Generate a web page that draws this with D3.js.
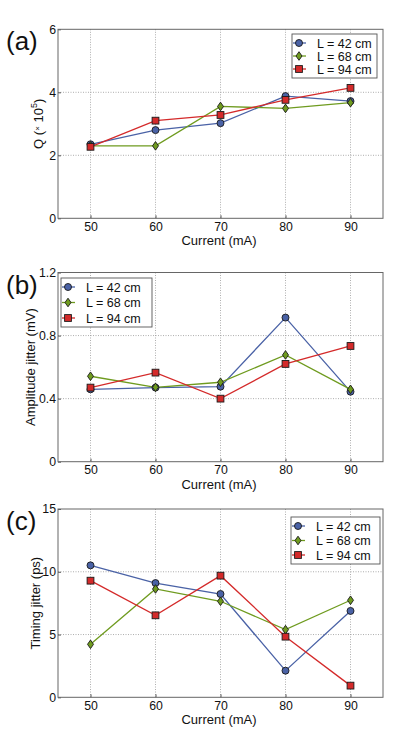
<!DOCTYPE html>
<html>
<head>
<meta charset="utf-8">
<script src="https://cdn.jsdelivr.net/npm/d3@7"></script>
<style>
  body { margin: 0; background: #fff; }
  svg { display: block; font-family: "Liberation Sans", Arial, sans-serif; }
</style>
</head>
<body>
<svg id="chart" width="398" height="734"></svg>
<script>
const currents = [50, 60, 70, 80, 90];
const seriesNames = ['L = 42 cm', 'L = 68 cm', 'L = 94 cm'];
const colors = ['#4a62a6', '#6f9b1f', '#d42a2a'];
const shapes = ['circle', 'diamond', 'square'];

// Q (x 10^5)
const q42 = [2.35, 2.80, 3.02, 3.88, 3.72];
const q68 = [2.30, 2.30, 3.55, 3.49, 3.67];
const q94 = [2.27, 3.10, 3.28, 3.76, 4.14];

// amplitude jitter (mV)
const amp42 = [0.459, 0.470, 0.476, 0.914, 0.444];
const amp68 = [0.542, 0.472, 0.504, 0.677, 0.459];
const amp94 = [0.470, 0.565, 0.400, 0.620, 0.734];

// timing jitter (ps)
const tim42 = [10.51, 9.10, 8.23, 2.12, 6.88];
const tim68 = [4.22, 8.63, 7.65, 5.39, 7.73];
const tim94 = [9.29, 6.53, 9.69, 4.83, 0.93];

const qTicks = [0, 2, 4, 6];
const ampTicks = [0, 0.4, 0.8, 1.2];
const timTicks = [0, 5, 10, 15];

const panels = [
  { tag: '(a)', top: 29.3, bottom: 218.3, max: 6, ticks: qTicks, fmt: d => d,
    series: [q42, q68, q94], ylabel: 'q', labelX: 43, legend: { x: 292, y: 34, w: 85, h: 44 } },
  { tag: '(b)', top: 272.5, bottom: 461.7, max: 1.2, ticks: ampTicks, fmt: d => d === 0 ? '0' : d.toFixed(1),
    series: [amp42, amp68, amp94], ylabel: 'Amplitude jitter (mV)', labelX: 35, legend: { x: 61, y: 278, w: 91, h: 49 } },
  { tag: '(c)', top: 509, bottom: 697.3, max: 15, ticks: timTicks, fmt: d => d,
    series: [tim42, tim68, tim94], ylabel: 'Timing jitter (ps)', labelX: 40, legend: { x: 291, y: 517, w: 89, h: 47 } }
];

const svg = d3.select('#chart');
const x = d3.scaleLinear().domain([45, 95]).range([58, 383]);

const drawMarker = (g, shape, cx, cy, color) => {
  if (shape === 'circle') {
    g.append('circle').attr('cx', cx).attr('cy', cy).attr('r', 3.5)
      .attr('fill', color).attr('stroke', '#1a1a1a').attr('stroke-width', 0.9);
  } else if (shape === 'diamond') {
    g.append('path').attr('d', `M${cx},${cy - 4.3}L${cx + 3},${cy}L${cx},${cy + 4.3}L${cx - 3},${cy}Z`)
      .attr('fill', color).attr('stroke', '#1a1a1a').attr('stroke-width', 0.9);
  } else {
    g.append('rect').attr('x', cx - 3.4).attr('y', cy - 3.4).attr('width', 6.8).attr('height', 6.8)
      .attr('fill', color).attr('stroke', '#1a1a1a').attr('stroke-width', 0.9);
  }
};

panels.forEach(p => {
  const y = d3.scaleLinear().domain([0, p.max]).range([p.bottom, p.top]);
  const g = svg.append('g');

  // grid
  g.append('g').selectAll('line').data(currents).join('line')
    .attr('x1', d => x(d)).attr('x2', d => x(d)).attr('y1', p.top).attr('y2', p.bottom)
    .attr('stroke', '#999').attr('stroke-width', 0.8).attr('stroke-dasharray', '1,1.5');
  g.append('g').selectAll('line').data(p.ticks.slice(1, -1)).join('line')
    .attr('x1', 58).attr('x2', 383).attr('y1', d => y(d)).attr('y2', d => y(d))
    .attr('stroke', '#999').attr('stroke-width', 0.8).attr('stroke-dasharray', '1,1.5');

  // axes
  const xAxis = g.append('g').attr('transform', `translate(0,${p.bottom})`)
    .call(d3.axisBottom(x).tickValues(currents).tickSizeInner(-3).tickSizeOuter(0).tickPadding(4));
  const yAxis = g.append('g').attr('transform', 'translate(58,0)')
    .call(d3.axisLeft(y).tickValues(p.ticks).tickFormat(p.fmt).tickSizeInner(-3).tickSizeOuter(0).tickPadding(2));
  [xAxis, yAxis].forEach(a => {
    a.select('.domain').remove();
    a.selectAll('line').attr('stroke', '#555');
    a.selectAll('text').attr('font-size', 12.3).attr('fill', '#111').attr('font-family', '"Liberation Sans", Arial, sans-serif');
  });
  g.append('rect').attr('x', 58).attr('y', p.top).attr('width', 325).attr('height', p.bottom - p.top)
    .attr('fill', 'none').attr('stroke', '#666').attr('stroke-width', 1);

  // x label
  g.append('text').attr('x', 219).attr('y', p.bottom + 27).attr('text-anchor', 'middle')
    .attr('font-size', 13).attr('fill', '#111').text('Current (mA)');

  // y label
  const yl = g.append('text')
    .attr('transform', `translate(${p.labelX},${(p.top + p.bottom) / 2}) rotate(-90)`)
    .attr('text-anchor', 'middle').attr('font-size', 13).attr('fill', '#111');
  if (p.ylabel === 'q') {
    yl.append('tspan').text('Q (');
    yl.append('tspan').attr('font-size', 8).attr('dy', -3).text('×');
    yl.append('tspan').attr('dy', 3).text(' 10');
    yl.append('tspan').attr('font-size', 9).attr('dy', -6).text('5');
    yl.append('tspan').attr('dy', 6).text(')');
  } else {
    yl.text(p.ylabel);
  }

  // panel tag
  g.append('text').attr('x', 6).attr('y', p.top + 21).attr('font-size', 26).attr('fill', '#111').text(p.tag);

  // series
  const line = d3.line().x((d, i) => x(currents[i])).y(d => y(d));
  p.series.forEach((vals, si) => {
    g.append('path').datum(vals).attr('d', line).attr('fill', 'none')
      .attr('stroke', colors[si]).attr('stroke-width', 1.3);
  });
  p.series.forEach((vals, si) => {
    const mg = g.append('g');
    vals.forEach((v, i) => drawMarker(mg, shapes[si], x(currents[i]), y(v), colors[si]));
  });

  // legend
  const L = p.legend;
  const lg = g.append('g');
  lg.append('rect').attr('x', L.x).attr('y', L.y).attr('width', L.w).attr('height', L.h)
    .attr('fill', '#fff').attr('stroke', '#555').attr('stroke-width', 0.9);
  const step = (L.h - 18) / 2;
  seriesNames.forEach((name, si) => {
    const cy = L.y + 9 + si * step;
    const mx = L.x + 7;
    lg.append('line').attr('x1', L.x + 1).attr('x2', L.x + 14).attr('y1', cy).attr('y2', cy)
      .attr('stroke', colors[si]).attr('stroke-width', 1.3);
    drawMarker(lg, shapes[si], mx, cy, colors[si]);
    lg.append('text').attr('x', L.x + 25).attr('y', cy + 4.5).attr('font-size', 12.5)
      .attr('fill', '#111').text(name);
  });
});
</script>
</body>
</html>
